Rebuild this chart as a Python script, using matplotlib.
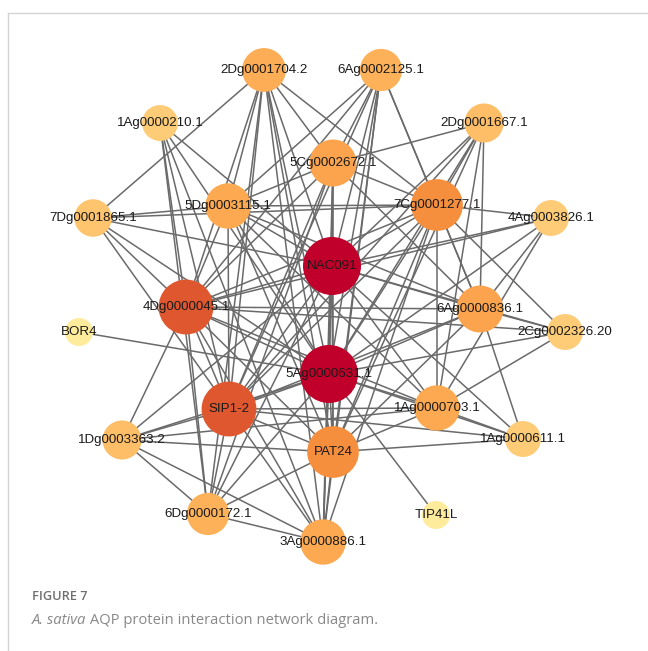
import numpy as np
import matplotlib.pyplot as plt
from matplotlib.colors import LinearSegmentedColormap

# node names and their layout positions (pixels, y down)
names = ['2Dg0001704.2', '6Ag0002125.1', '1Ag0000210.1', '2Dg0001667.1',
         '5Cg0002672.1', '5Dg0003115.1', '7Cg0001277.1', '7Dg0001865.1',
         '4Ag0003826.1', 'NAC091', '4Dg0000045.1', 'BOR4', '6Ag0000836.1',
         '2Cg0002326.20', '5Ag0000631.1', 'SIP1-2', '1Ag0000703.1',
         '1Dg0003363.2', '1Ag0000611.1', 'PAT24', '6Dg0000172.1', 'TIP41L',
         '3Ag0000886.1']
layout_x = [264, 381, 160, 484, 333, 228, 437, 93, 551, 332, 186, 79, 480,
            565, 329, 229, 437, 122, 523, 333, 208, 436, 323]
layout_y = [70, 70, 123, 123, 163, 206, 205, 218, 218, 266, 307, 332, 309,
            332, 374, 409, 408, 440, 439, 452, 514, 515, 542]

# interactions, listed as node -> partners
links = {
    '5Ag0000631.1': ['2Dg0001704.2', '6Ag0002125.1', '1Ag0000210.1', '2Dg0001667.1',
                     '5Cg0002672.1', '5Dg0003115.1', '7Cg0001277.1', '7Dg0001865.1',
                     '4Ag0003826.1', 'NAC091', '4Dg0000045.1', 'BOR4', '6Ag0000836.1',
                     '2Cg0002326.20', 'SIP1-2', '1Ag0000703.1', '1Dg0003363.2',
                     '1Ag0000611.1', 'PAT24', '6Dg0000172.1', 'TIP41L', '3Ag0000886.1'],
    'NAC091': ['2Dg0001704.2', '6Ag0002125.1', '1Ag0000210.1', '2Dg0001667.1',
               '5Cg0002672.1', '5Dg0003115.1', '7Cg0001277.1', '7Dg0001865.1',
               '4Ag0003826.1', '4Dg0000045.1', '6Ag0000836.1', '2Cg0002326.20',
               'SIP1-2', '1Ag0000703.1', '1Dg0003363.2', '1Ag0000611.1',
               'PAT24', '6Dg0000172.1', '3Ag0000886.1'],
    '4Dg0000045.1': ['2Dg0001704.2', '6Ag0002125.1', '1Ag0000210.1', '5Cg0002672.1',
                     '5Dg0003115.1', '7Cg0001277.1', '7Dg0001865.1', '4Ag0003826.1',
                     '6Ag0000836.1', '2Cg0002326.20', '1Ag0000703.1', '1Dg0003363.2',
                     'SIP1-2', 'PAT24', '6Dg0000172.1', '3Ag0000886.1'],
    'SIP1-2': ['2Dg0001704.2', '6Ag0002125.1', '1Ag0000210.1', '2Dg0001667.1',
               '5Cg0002672.1', '5Dg0003115.1', '7Cg0001277.1', '7Dg0001865.1',
               '6Ag0000836.1', '1Ag0000703.1', '1Dg0003363.2', '1Ag0000611.1',
               'PAT24', '6Dg0000172.1', '3Ag0000886.1'],
    '7Cg0001277.1': ['2Dg0001704.2', '6Ag0002125.1', '2Dg0001667.1', '5Cg0002672.1',
                     '5Dg0003115.1', '7Dg0001865.1', '4Ag0003826.1', '6Ag0000836.1',
                     '2Cg0002326.20', '1Ag0000703.1', 'PAT24', '3Ag0000886.1'],
    'PAT24': ['2Dg0001704.2', '6Ag0002125.1', '2Dg0001667.1', '5Cg0002672.1',
              '5Dg0003115.1', '6Ag0000836.1', '1Ag0000703.1', '1Dg0003363.2',
              '1Ag0000611.1', '6Dg0000172.1', '3Ag0000886.1'],
    '5Cg0002672.1': ['2Dg0001704.2', '6Ag0002125.1', '2Dg0001667.1', '5Dg0003115.1',
                     '6Ag0000836.1', '6Dg0000172.1', '3Ag0000886.1'],
    '6Ag0000836.1': ['6Ag0002125.1', '2Dg0001667.1', '4Ag0003826.1', '2Cg0002326.20',
                     '1Ag0000611.1', '5Dg0003115.1'],
    '1Ag0000703.1': ['2Dg0001667.1', '4Ag0003826.1', '2Cg0002326.20', '1Ag0000611.1',
                     '1Dg0003363.2', '5Dg0003115.1'],
    '5Dg0003115.1': ['2Dg0001704.2', '6Ag0002125.1', '7Dg0001865.1'],
    '3Ag0000886.1': ['2Dg0001704.2', '6Ag0002125.1', '1Dg0003363.2', '6Dg0000172.1',
                     '1Ag0000210.1'],
    '2Dg0001704.2': ['7Dg0001865.1', '6Dg0000172.1'],
    '6Dg0000172.1': ['1Dg0003363.2', '1Ag0000210.1'],
}

edges = [(a, b) for a, partners in links.items() for b in partners]
idx = {n: i for i, n in enumerate(names)}
degree = np.zeros(len(names))
for a, b in edges:
    degree[idx[a]] += 1
    degree[idx[b]] += 1

# degree -> colour / size, saturating at 20 links
t = np.clip((degree - 1) / 19, 0, 1)
cmap = LinearSegmentedColormap.from_list('deg', [
    (0.0, '#FFEB9C'), (0.316, '#FEC46E'), (0.474, '#FDB25A'),
    (0.632, '#FBA44D'), (0.789, '#F7913D'), (0.895, '#E05A2E'),
    (1.0, '#C0002A')])
radius = 14 + 15 * t

fig = plt.figure(figsize=(6.48, 6.51), dpi=100)
ax = fig.add_axes([0, 0, 1, 1])
ax.set_xlim(0, 648)
ax.set_ylim(651, 0)
ax.axis('off')

# light frame on top and left
ax.plot([8, 648], [13, 13], color='#d4d4d4', lw=1.0)
ax.plot([8, 8], [13, 651], color='#d4d4d4', lw=1.0)

x = np.array(layout_x, float)
y = np.array(layout_y, float)
for a, b in edges:
    i, j = idx[a], idx[b]
    ax.plot([x[i], x[j]], [y[i], y[j]], color='#6a6a6a', lw=1.1, zorder=1,
            solid_capstyle='butt')

for i, n in enumerate(names):
    ax.add_patch(plt.Circle((x[i], y[i]), radius[i], color=cmap(t[i]),
                            lw=0, zorder=2))
    ax.text(x[i], y[i], n, ha='center', va='center', fontsize=9.6,
            family='Liberation Sans', color='#1a1a1a', zorder=3)

ax.text(32, 596, 'FIGURE 7', fontsize=9.2, family='Open Sans',
        fontweight='semibold', color='#6f6f6f', va='center')
t1 = ax.text(32, 621, 'A. sativa', fontsize=10.6, family='Open Sans',
             style='italic', color='#888888', va='center')
ax.annotate(' AQP protein interaction network diagram.', xy=(1, 0),
            xycoords=t1, va='bottom', fontsize=10.6, family='Open Sans',
            color='#888888')

fig.savefig('out.png', dpi=100)
